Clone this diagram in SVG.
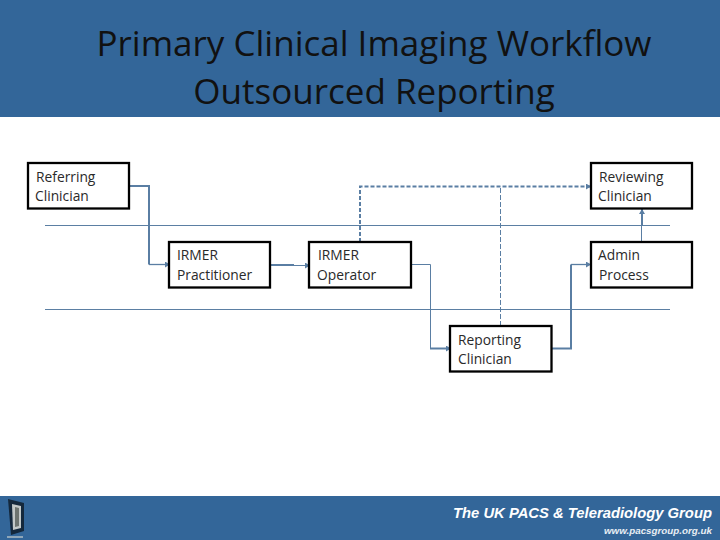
<svg xmlns="http://www.w3.org/2000/svg" width="720" height="540" viewBox="0 0 720 540">
<style>
.band{fill:#336699}
.title{font-family:"Open Sans","Noto Sans",sans-serif;font-size:35px;fill:#111;text-anchor:middle}
.box{fill:#fff;stroke:#000;stroke-width:2.300}
.lbl{font-family:"Open Sans","Noto Sans",sans-serif;font-size:13.800px;fill:#2a2a2a}
.lane{fill:none;stroke:#5b7fa3;stroke-width:1}
.c{fill:none;stroke:#5a7ea3}
</style>
<defs>
<marker id="a" markerUnits="userSpaceOnUse" markerWidth="6" markerHeight="6" refX="5" refY="3" orient="auto"><path d="M0 0L5 3L0 6Z" fill="#5a7ea3"/></marker>
</defs>
<rect class="band" x="0" y="0" width="720" height="117"/>
<rect class="band" x="0" y="496" width="720" height="44"/>
<g id="title">
<text class="title" x="374" y="56">Primary Clinical Imaging Workflow</text>
<text class="title" x="374" y="104">Outsourced Reporting</text>
</g>
<g id="lanes">
<path class="lane" d="M45 225.500H670M45 309.500H670"/>
</g>
<g id="connectors">
<path class="c" stroke-width="2" d="M129 186H149V264.500" />
<path class="c" stroke-width="1.300" d="M149 264.500H170" marker-end="url(#a)"/>
<path class="c" stroke-width="2" d="M271 265H294"/>
<path class="c" stroke-width="1" d="M294 265.500H310" marker-end="url(#a)"/>
<path class="c" stroke-width="1" d="M411 264.500H430.500V348.500H442"/>
<path class="c" stroke-width="2" d="M430 348.500H451" marker-end="url(#a)"/>
<path class="c" stroke-width="2" d="M551 348.500H571V264.500"/>
<path class="c" stroke-width="1.300" d="M571 264.500H591" marker-end="url(#a)"/>
<path class="c" stroke-width="1" d="M641.500 242V226"/>
<path class="c" stroke-width="2" d="M642 226V209" marker-end="url(#a)"/>
<path class="c" stroke-width="2" stroke-dasharray="4 2" d="M360 242V186.500H591" marker-end="url(#a)"/>
<path class="c" stroke-width="1" stroke-dasharray="5 2" d="M500.500 326V187"/>
</g>
<g id="referring-clinician">
<rect class="box" x="28" y="163" width="101" height="45.500"/>
<text class="lbl" x="36" y="182">Referring</text>
<text class="lbl" x="35" y="201">Clinician</text>
</g>
<g id="reviewing-clinician">
<rect class="box" x="591" y="163" width="101" height="45.500"/>
<text class="lbl" x="599" y="182">Reviewing</text>
<text class="lbl" x="598" y="201">Clinician</text>
</g>
<g id="irmer-practitioner">
<rect class="box" x="169" y="242" width="101" height="45.500"/>
<text class="lbl" x="177" y="260">IRMER</text>
<text class="lbl" x="177" y="280">Practitioner</text>
</g>
<g id="irmer-operator">
<rect class="box" x="309" y="242" width="102" height="45.500"/>
<text class="lbl" x="318" y="260">IRMER</text>
<text class="lbl" x="317" y="280">Operator</text>
</g>
<g id="admin-process">
<rect class="box" x="591" y="242" width="101" height="45.500"/>
<text class="lbl" x="598" y="260">Admin</text>
<text class="lbl" x="599" y="280">Process</text>
</g>
<g id="reporting-clinician">
<rect class="box" x="450" y="326" width="101.500" height="45.500"/>
<text class="lbl" x="458" y="345">Reporting</text>
<text class="lbl" x="458" y="364">Clinician</text>
</g>
<g id="footer">
<path d="M8 499L24 503V531L11 535Z" fill="#14283c"/>
<path d="M12 504L21 506V528L13 530Z" fill="#c2c8c8"/>
<path d="M15 507L19 508V526L15 527Z" fill="#6d7470"/>
<path d="M7 537H23" stroke="#8fa6b8" stroke-width="2"/>
<text x="453" y="518" textLength="259" lengthAdjust="spacingAndGlyphs" font-family="Liberation Sans,Arial,sans-serif" font-size="14.500" font-weight="700" font-style="italic" fill="#fff">The UK PACS &amp; Teleradiology Group</text>
<text x="604" y="534" textLength="108" lengthAdjust="spacingAndGlyphs" font-family="Liberation Sans,Arial,sans-serif" font-size="9.500" font-weight="700" font-style="italic" fill="#e8eef4">www.pacsgroup.org.uk</text>
</g>
</svg>
